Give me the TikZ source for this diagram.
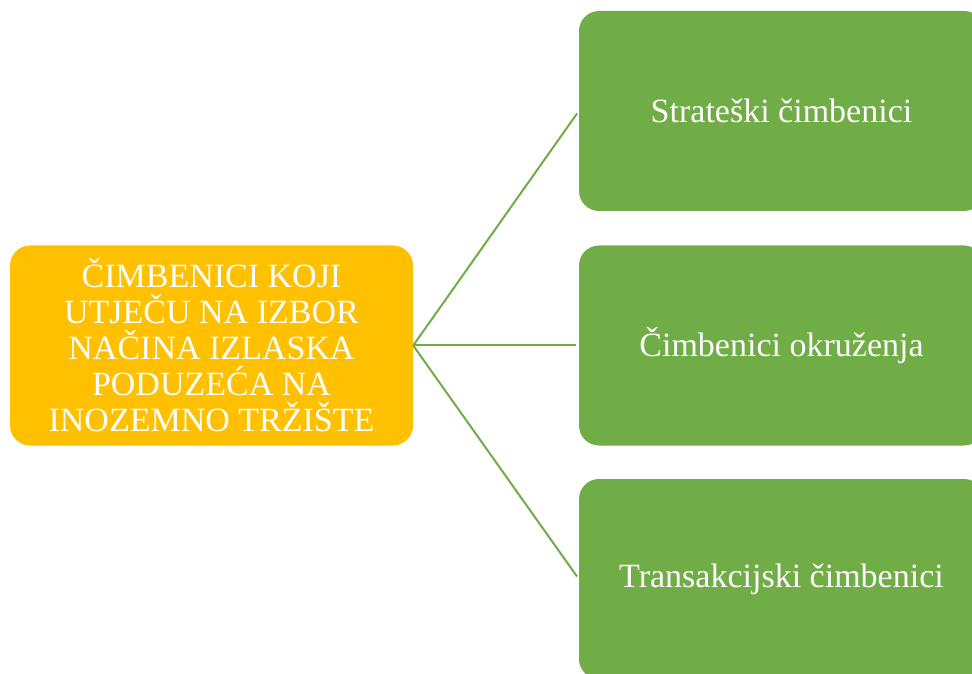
\documentclass[tikz,border=0pt]{standalone}
\usepackage{fontspec}
\setmainfont{Liberation Serif}
\definecolor{boxorange}{HTML}{FFC000}
\definecolor{boxgreen}{HTML}{70AD47}
\tikzset{
  mainbox/.style={rectangle, rounded corners=20pt, fill=boxorange, text=white,
    minimum width=403pt, minimum height=200pt, inner sep=0pt, align=center,
    font=\fontsize{34pt}{36pt}\selectfont},
  subbox/.style={rectangle, rounded corners=20pt, fill=boxgreen, text=white,
    minimum width=405pt, minimum height=200pt, inner sep=0pt, align=center,
    font=\fontsize{34pt}{36pt}\selectfont},
  link/.style={draw=boxgreen, line width=2pt, shorten >=3pt}
}
\begin{document}
\begin{tikzpicture}[x=1pt,y=1pt]
\useasboundingbox (0,0) rectangle (972,673);
\clip (0,0) rectangle (972,673);
\node[mainbox] (L) at (211.5,327.5) {ČIMBENICI KOJI\\UTJEČU NA IZBOR\\NAČINA IZLASKA\\PODUZEĆA NA\\INOZEMNO TRŽIŠTE};
\node[subbox] (G1) at (781.5,562) {Strateški čimbenici};
\node[subbox] (G2) at (781.5,327.5) {Čimbenici okruženja};
\node[subbox] (G3) at (781.5,94) {Transakcijski čimbenici};
\draw[link] (L.east) -- (G1.west);
\draw[link] (L.east) -- (G2.west);
\draw[link] (L.east) -- (G3.west);
\end{tikzpicture}
\end{document}
